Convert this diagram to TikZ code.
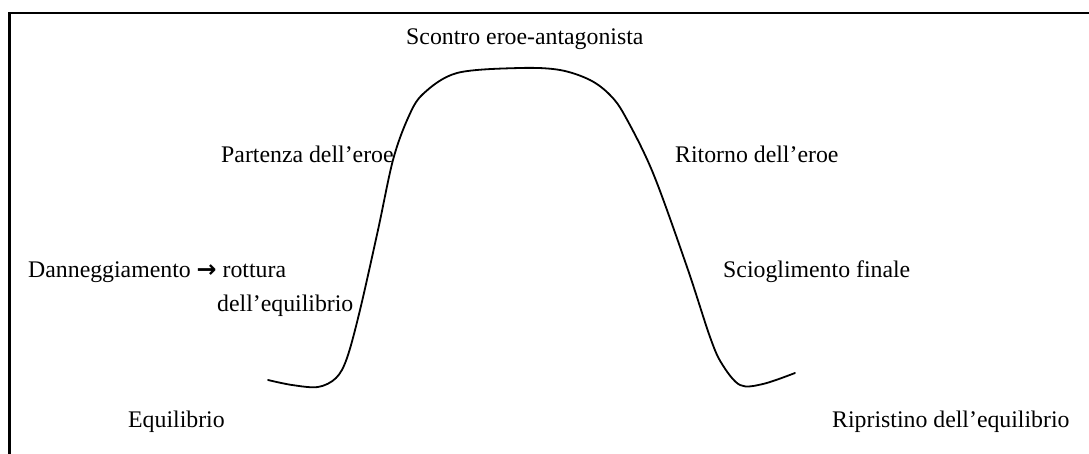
\documentclass[tikz,border=0pt]{standalone}
\usepackage{fontspec}
\setmainfont{Liberation Serif}
\newfontfamily\arrowfont{DejaVu Sans}
\begin{document}
\begin{tikzpicture}[x=1pt,y=-1pt,
  lbl/.style={anchor=base west,inner sep=0pt,font=\fontsize{23.8}{28}\selectfont},
  frame/.style={line width=2.4pt,line cap=rect},
  arc/.style={line width=1.8pt,line cap=round,line join=round}]
\useasboundingbox (0,0) rectangle (1089,454);
\draw[frame] (1089,13) -- (9.5,13) -- (9.5,454);
\draw[arc] plot[smooth,tension=0.55] coordinates {
 (268,380) (292,385) (318,387) (336,378) (347,358) (360,310) (378,230)
 (393,160) (408,118) (423,94) (457,73) (520,68) (560,70) (590,80)
 (610,95) (625,116) (653,173) (687,267) (710,337) (722,364) (740,385)
 (763,384) (795,373)};
\node[lbl] (scontro) at (406,45) {Scontro eroe-antagonista};
\node[lbl] (partenza) at (221,163) {Partenza dell’eroe};
\node[lbl] (ritorno) at (675,163) {Ritorno dell’eroe};
\node[lbl] (danno) at (28,278) {Danneggiamento {\arrowfont\bfseries →} rottura};
\node[lbl] (rottura) at (217,311) {dell’equilibrio};
\node[lbl] (sciogl) at (723,278) {Scioglimento finale};
\node[lbl] (equil) at (128,427) {Equilibrio};
\node[lbl] (ripr) at (832,427) {Ripristino dell’equilibrio};
\end{tikzpicture}
\end{document}
